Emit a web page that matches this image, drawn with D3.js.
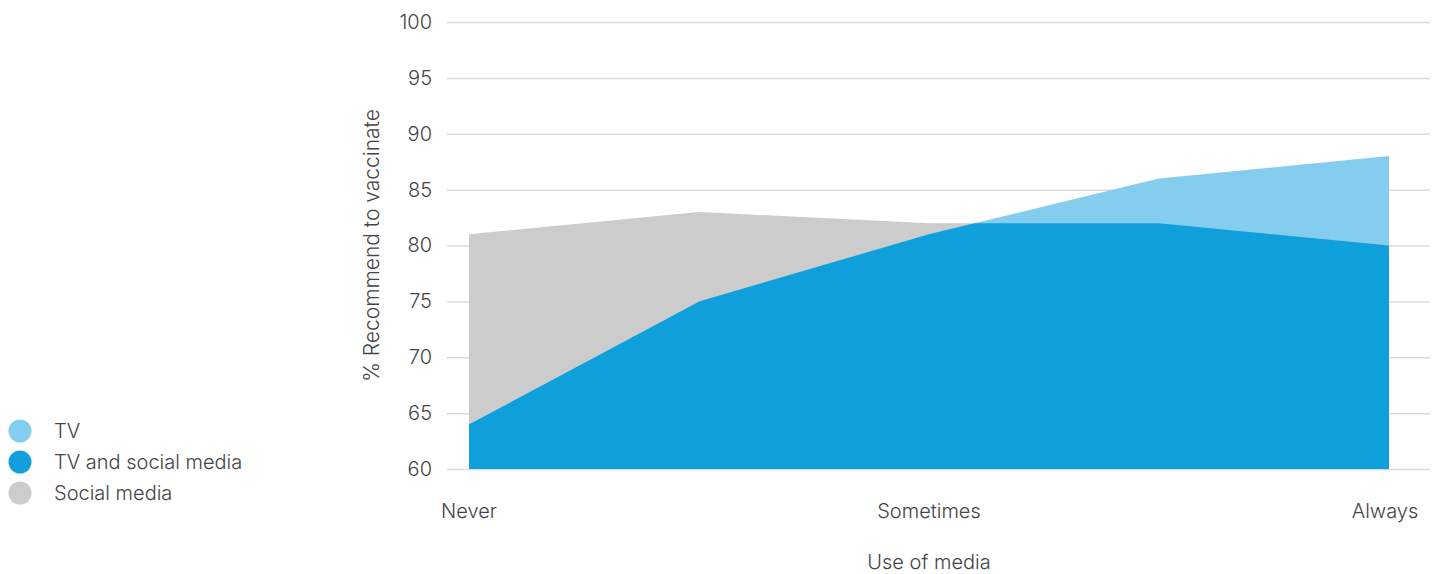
<!DOCTYPE html>
<html>
<head>
<meta charset="utf-8">
<script src="https://cdn.jsdelivr.net/npm/d3@7"></script>
<style>
  body { margin: 0; background: #fff; }
  text { font-family: Inter, Roboto, sans-serif; font-weight: 300; fill: #444; }
</style>
</head>
<body>
<div id="chart"></div>
<script>
// use of media, five steps, only three are labelled
var steps = [0, 1, 2, 3, 4];
var stepLabels = ["Never", "", "Sometimes", "", "Always"];

// % recommend to vaccinate
var tvValues = [64, 75, 81, 86, 88];
var tvSocialValues = [64, 75, 82, 82, 80];
var socialValues = [81, 83, 82, 82, 80];

var yTicks = [60, 65, 70, 75, 80, 85, 90, 95, 100];

var legendItems = [
    { name: "TV", color: "#84cdee" },
    { name: "TV and social media", color: "#129fdb" },
    { name: "Social media", color: "#cccccc" }
];

var width = 1437, height = 574;

var svg = d3.select("#chart").append("svg")
    .attr("width", width)
    .attr("height", height);

var x = d3.scaleLinear().domain([0, 4]).range([469, 1389]);
var y = d3.scaleLinear().domain([60, 100]).range([469, 22]);

// gridlines + y labels
var yAxis = d3.axisLeft(y)
    .tickValues(yTicks)
    .tickSize(-(1430 - 447))
    .tickPadding(15);

var yg = svg.append("g")
    .attr("transform", "translate(447,0)")
    .call(yAxis);
yg.select(".domain").remove();
yg.selectAll(".tick line").attr("stroke", "#dcdcdc").attr("stroke-width", 1.5);
yg.selectAll(".tick text")
    .style("font-size", "20px")
    .style("font-family", "Inter, Roboto, sans-serif")
    .style("font-weight", 300)
    .attr("fill", "#444");

function areaFor(vals) {
    return d3.area()
        .x(function(d, i) { return x(steps[i]); })
        .y0(y(60))
        .y1(function(d) { return y(d); })(vals);
}

// clip for the overlap of TV and TV+social
svg.append("clipPath").attr("id", "tvclip")
    .append("path").attr("d", areaFor(tvValues));

svg.append("path").attr("d", areaFor(socialValues)).attr("fill", "#cccccc");
svg.append("path").attr("d", areaFor(tvValues)).attr("fill", "#84cdee");
svg.append("path").attr("d", areaFor(tvSocialValues))
    .attr("fill", "#0f9fdb")
    .attr("clip-path", "url(#tvclip)");

// x labels
svg.selectAll("text.xlab")
    .data(steps.filter(function(d) { return stepLabels[d] !== ""; }))
    .enter()
    .append("text")
    .attr("class", "xlab")
    .attr("x", function(d) { return d === 4 ? x(d) - 4 : x(d); })
    .attr("y", 518)
    .attr("text-anchor", "middle")
    .style("font-size", "20px")
    .text(function(d) { return stepLabels[d]; });

svg.append("text")
    .attr("x", x(2))
    .attr("y", 569)
    .attr("text-anchor", "middle")
    .style("font-size", "20px")
    .text("Use of media");

svg.append("text")
    .attr("transform", "translate(379," + ((y(60) + y(100)) / 2) + ") rotate(-90)")
    .attr("text-anchor", "middle")
    .style("font-size", "21px")
    .text("% Recommend to vaccinate");

// legend
var legend = svg.selectAll("g.legend")
    .data(legendItems)
    .enter()
    .append("g")
    .attr("class", "legend")
    .attr("transform", function(d, i) { return "translate(20," + (431 + i * 31) + ")"; });

legend.append("circle").attr("r", 11.5).attr("fill", function(d) { return d.color; });
legend.append("text")
    .attr("x", 34)
    .attr("y", 7)
    .style("font-size", "20px")
    .text(function(d) { return d.name; });
</script>
</body>
</html>
